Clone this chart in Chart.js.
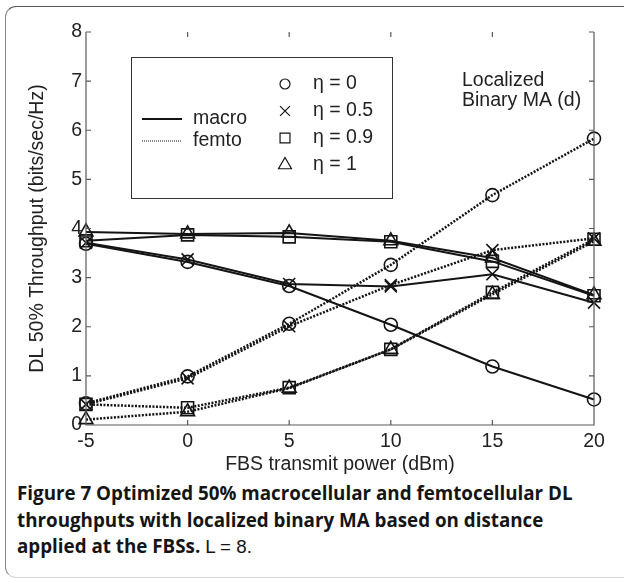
<!DOCTYPE html>
<html>
<head>
<meta charset="utf-8">
<title>Figure 7</title>
<script src="https://cdn.jsdelivr.net/npm/chart.js@4.4.0/dist/chart.umd.min.js"></script>
<style>
  html, body { margin: 0; background: #fff; overflow: hidden; }
  #page { position: relative; width: 624px; height: 578px; overflow: hidden; }
  #frame {
    position: absolute; left: 5px; top: 6px; width: 680px; height: 570px;
    border-top: 1.5px solid #555; border-left: 1.5px solid #8a8a8a;
    border-bottom: 1px solid #d6d6d6; border-radius: 11px;
  }
  #chart { position: absolute; left: 0; top: 0; }
  #caption {
    position: absolute; left: 17px; top: 480px;
    font-family: 'Open Sans', sans-serif; font-weight: 700; color: #151515;
    line-height: 26.5px; white-space: nowrap;
  }
  #caption .math { font-family: 'Liberation Sans', sans-serif; font-weight: 400; }
</style>
</head>
<body>
<div id="page">
<div id="frame"></div>
<canvas id="chart" width="624" height="480"></canvas>
<div id="caption">Figure 7 Optimized 50% macrocellular and femtocellular DL<br>throughputs with localized binary MA based on distance<br>applied at the FBSs. <span class="math">L = 8.</span></div>
</div>

<script>
// FBS transmit power (dBm)
const powers = [-5, 0, 5, 10, 15, 20];

// 50% throughput, macro users (bits/sec/Hz)
const macroEta0  = [3.69, 3.32, 2.83, 2.04, 1.19, 0.52];
const macroEta05 = [3.71, 3.37, 2.87, 2.82, 3.07, 2.49];
const macroEta09 = [3.75, 3.87, 3.83, 3.73, 3.33, 2.63];
const macroEta1  = [3.93, 3.89, 3.91, 3.75, 3.40, 2.65];

// 50% throughput, femto users (bits/sec/Hz)
const femtoEta0  = [0.44, 0.99, 2.06, 3.26, 4.68, 5.83];
const femtoEta05 = [0.42, 0.95, 2.01, 2.85, 3.56, 3.80];
const femtoEta09 = [0.42, 0.35, 0.76, 1.54, 2.70, 3.78];
const femtoEta1  = [0.11, 0.27, 0.75, 1.54, 2.66, 3.74];

const etaLabels = ['η = 0', 'η = 0.5', 'η = 0.9', 'η = 1'];
const cellLabels = ['macro', 'femto'];
const xTicks = [-5, 0, 5, 10, 15, 20];
const yTicks = [0, 1, 2, 3, 4, 5, 6, 7, 8];
const noteLines = ['Localized', 'Binary MA (d)'];

const ink = '#141414';
const markers = [
  { style: 'circle',   r: 6.5, legendR: 5 },
  { style: 'crossRot', r: 8.5, legendR: 7 },
  { style: 'rect',     r: 8.5, legendR: 7 },
  { style: 'triangle', r: 8,   legendR: 7.5 }
];

function series(values, m, dotted) {
  return {
    data: values.map((v, i) => ({ x: powers[i], y: v })),
    borderColor: ink,
    borderWidth: dotted ? 2.5 : 2,
    borderDash: dotted ? [2, 1.5] : [],
    tension: 0,
    fill: false,
    clip: false,
    pointStyle: m.style,
    pointRadius: m.r,
    pointBorderWidth: 1.6,
    pointBorderColor: ink,
    pointBackgroundColor: 'rgba(0,0,0,0)'
  };
}

const datasets = [
  series(femtoEta0, markers[0], true),
  series(femtoEta05, markers[1], true),
  series(femtoEta09, markers[2], true),
  series(femtoEta1, markers[3], true),
  series(macroEta0, markers[0], false),
  series(macroEta05, markers[1], false),
  series(macroEta09, markers[2], false),
  series(macroEta1, markers[3], false)
];

const font = "'Liberation Sans', Arial, sans-serif";
const textSize = 19.5;

// axes box with inward ticks, the legend box and the note
const decorations = {
  id: 'decorations',
  afterDraw(chart) {
    const { ctx, chartArea: a, scales: { x, y } } = chart;
    ctx.save();
    ctx.strokeStyle = '#5a5a5a';
    ctx.lineWidth = 1.2;
    ctx.beginPath();
    ctx.moveTo(a.left, a.top);
    ctx.lineTo(a.left, a.bottom);
    ctx.lineTo(a.right, a.bottom);
    ctx.lineTo(a.right, a.top);
    xTicks.forEach(v => {
      const px = x.getPixelForValue(v);
      ctx.moveTo(px, a.bottom); ctx.lineTo(px, a.bottom - 5);
      ctx.moveTo(px, a.top); ctx.lineTo(px, a.top + 5);
    });
    yTicks.forEach(v => {
      const py = y.getPixelForValue(v);
      ctx.moveTo(a.left, py); ctx.lineTo(a.left + 5, py);
      ctx.moveTo(a.right, py); ctx.lineTo(a.right - 5, py);
    });
    ctx.stroke();

    // legend
    ctx.strokeStyle = '#333';
    ctx.lineWidth = 1;
    ctx.strokeRect(131.5, 57.5, 261, 141);

    ctx.strokeStyle = ink;
    ctx.lineWidth = 1.8;
    ctx.beginPath();
    ctx.moveTo(142, 119); ctx.lineTo(182, 119);
    ctx.stroke();
    ctx.lineWidth = 1.2;
    ctx.setLineDash([1, 1]);
    ctx.beginPath();
    ctx.moveTo(142, 141); ctx.lineTo(182, 141);
    ctx.stroke();
    ctx.setLineDash([]);

    ctx.fillStyle = '#222';
    ctx.font = textSize + 'px ' + font;
    ctx.textBaseline = 'middle';
    ctx.textAlign = 'left';
    ctx.fillText(cellLabels[0], 193, 119);
    ctx.fillText(cellLabels[1], 193, 141);

    const rows = [84, 111, 138, 165];
    markers.forEach((m, i) => {
      ctx.save();
      ctx.strokeStyle = ink;
      ctx.fillStyle = 'rgba(0,0,0,0)';
      Chart.helpers.drawPoint(ctx, { pointStyle: m.style, radius: m.legendR, rotation: 0, borderWidth: 1.5 }, 285, rows[i]);
      ctx.restore();
      ctx.fillText(etaLabels[i], 313, rows[i]);
    });

    noteLines.forEach((t, i) => ctx.fillText(t, 462, 81 + i * 19.5));
    ctx.restore();
  }
};

new Chart(document.getElementById('chart'), {
  type: 'line',
  data: { datasets: datasets },
  plugins: [decorations],
  options: {
    responsive: false,
    devicePixelRatio: 1,
    animation: false,
    layout: { padding: { left: 0, top: 32, right: 30, bottom: 0 } },
    plugins: { legend: { display: false }, tooltip: { enabled: false } },
    scales: {
      x: {
        type: 'linear',
        min: -5,
        max: 20,
        afterFit: s => { s.height = 55; },
        afterBuildTicks: s => { s.ticks = xTicks.map(v => ({ value: v })); },
        grid: { display: false, drawTicks: false, tickLength: 0 },
        border: { display: false },
        ticks: { padding: 5, color: '#222', font: { family: font, size: textSize } },
        title: {
          display: true,
          text: 'FBS transmit power (dBm)',
          color: '#222',
          font: { family: font, size: textSize },
          padding: { top: 0, bottom: 4 }
        }
      },
      y: {
        min: 0,
        max: 8,
        afterFit: s => { s.width = 86; },
        afterBuildTicks: s => { s.ticks = yTicks.map(v => ({ value: v })); },
        grid: { display: false, drawTicks: false, tickLength: 0 },
        border: { display: false },
        ticks: { padding: 4, color: '#222', font: { family: font, size: textSize } },
        title: {
          display: true,
          text: 'DL 50% Throughput (bits/sec/Hz)',
          color: '#222',
          font: { family: font, size: textSize },
          padding: { top: 26, bottom: 0 }
        }
      }
    }
  }
});

// size the caption so its first line spans the figure width
(function fitCaption() {
  const cap = document.getElementById('caption');
  const c = document.createElement('canvas').getContext('2d');
  c.font = "700 18px 'Open Sans'";
  const w = c.measureText('Figure 7 Optimized 50% macrocellular and femtocellular DL').width;
  cap.style.fontSize = (18 * 556 / w).toFixed(2) + 'px';
})();
</script>
</body>
</html>
